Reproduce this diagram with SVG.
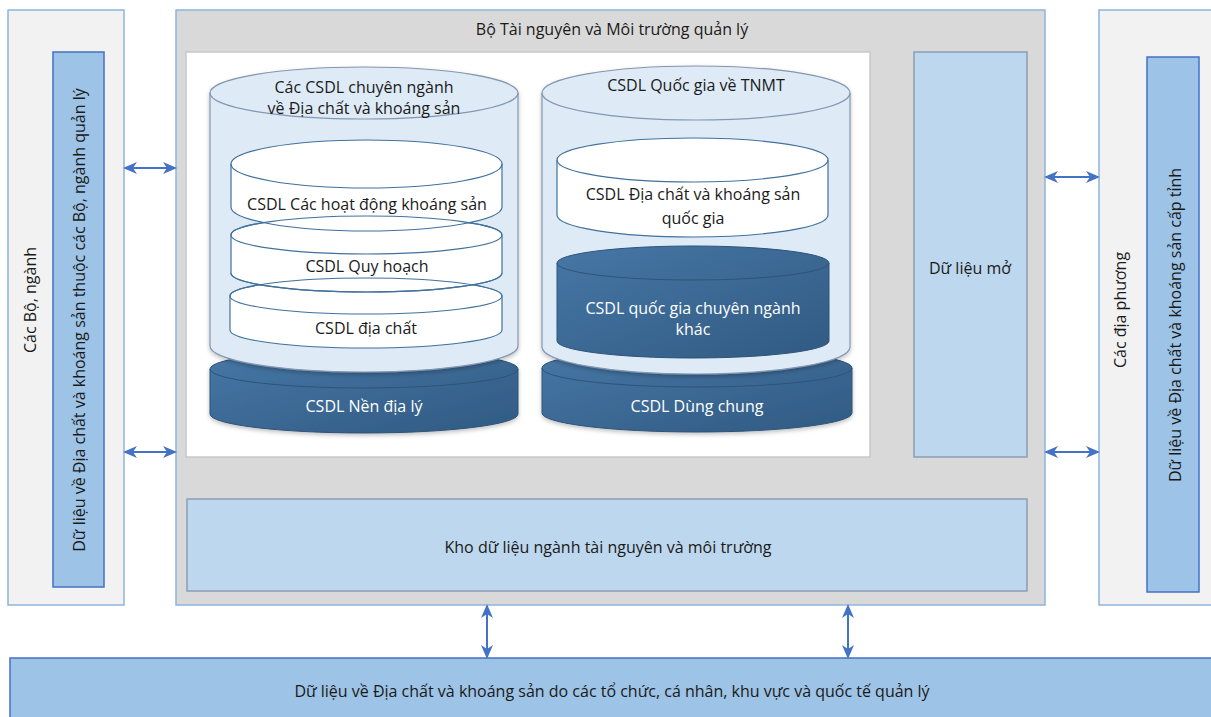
<svg xmlns="http://www.w3.org/2000/svg" width="1211" height="717" viewBox="0 0 1211 717">
<defs>
<style>
text{font-family:"Open Sans","Noto Sans","Liberation Sans",sans-serif;font-size:16px;fill:#1a1a1a;text-anchor:middle;}
.w{fill:#ffffff;}
.side{fill:#f2f2f2;stroke:#8fb4de;stroke-width:1.5;}
.main{fill:#d9d9d9;stroke:#8fb4de;stroke-width:1.5;}
.panel{fill:#ffffff;stroke:#c8c8c8;stroke-width:1.5;}
.lb{fill:#bdd7ee;stroke:#8c9db5;stroke-width:1.5;}
.mb{fill:#9dc3e6;stroke:#4472c4;stroke-width:1.5;}
.lc{fill:#deebf7;stroke:#8497b0;stroke-width:1.2;}
.wc{fill:#ffffff;stroke:#41719c;stroke-width:1.2;}
.dc{fill:url(#dg);stroke:#2e5478;stroke-width:1;}
.arc{fill:none;}
.conn{stroke:#4472c4;stroke-width:2;fill:none;marker-start:url(#ah);marker-end:url(#ah);}
</style>
<linearGradient id="dg" x1="0" y1="0" x2="1" y2="1">
<stop offset="0" stop-color="#4777a6"/>
<stop offset="1" stop-color="#305a82"/>
</linearGradient>
<marker id="ah" viewBox="0 0 14 12" refX="12" refY="6" markerWidth="14" markerHeight="12" markerUnits="userSpaceOnUse" orient="auto-start-reverse">
<path d="M0,0 L14,6 L0,12 L4,6 z" fill="#4472c4"/>
</marker>
<filter id="sh" x="-5%" y="-5%" width="110%" height="120%">
<feDropShadow dx="0" dy="2" stdDeviation="2" flood-color="#000" flood-opacity="0.25"/>
</filter>
</defs>

<g id="left-side">
<rect class="side" x="8" y="10" width="116" height="595"/>
<text transform="translate(36,300) rotate(-90)">Các Bộ, ngành</text>
</g>
<g id="left-inner">
<rect class="mb" x="53" y="52" width="51" height="535"/>
<text transform="translate(85,320) rotate(-90)">Dữ liệu về Địa chất và khoáng sản thuộc các Bộ, ngành quản lý</text>
</g>

<g id="main">
<rect class="main" x="176" y="10" width="869" height="595"/>
<text x="612" y="35">Bộ Tài nguyên và Môi trường quản lý</text>
</g>
<g id="panel">
<rect class="panel" x="186" y="52" width="684" height="405"/>
</g>

<g id="base-left">
<path class="dc" filter="url(#sh)" d="M210,369 A154,19 0 0 1 518,369 L518,414 A154,19 0 0 1 210,414 Z"/>
<path class="dc arc" d="M210,369 A154,19 0 0 0 518,369"/>
<text class="w" x="364" y="412">CSDL Nền địa lý</text>
</g>
<g id="base-right">
<path class="dc" filter="url(#sh)" d="M542,368 A155,19 0 0 1 852,368 L852,413 A155,19 0 0 1 542,413 Z"/>
<path class="dc arc" d="M542,368 A155,19 0 0 0 852,368"/>
<text class="w" x="697" y="412">CSDL Dùng chung</text>
</g>

<g id="cyl-left">
<path class="lc" filter="url(#sh)" d="M210,93 A154,26 0 0 1 518,93 L518,346 A154,26 0 0 1 210,346 Z"/>
<path class="lc arc" d="M210,93 A154,26 0 0 0 518,93"/>
<text x="364" y="93">Các CSDL chuyên ngành</text>
<text x="364" y="114">về Địa chất và khoáng sản</text>
</g>
<g id="cyl-right">
<path class="lc" filter="url(#sh)" d="M542,93 A154,27 0 0 1 850,93 L850,347 A154,27 0 0 1 542,347 Z"/>
<path class="lc arc" d="M542,93 A154,27 0 0 0 850,93"/>
<text x="696" y="91">CSDL Quốc gia về TNMT</text>
</g>

<g id="db-diachat">
<path class="wc" d="M230,296 A136,18 0 0 1 502,296 L502,330 A136,18 0 0 1 230,330 Z"/>
<path class="wc arc" d="M230,296 A136,18 0 0 0 502,296"/>
<text x="366" y="334">CSDL địa chất</text>
</g>
<g id="db-quyhoach">
<path class="wc" d="M231,235 A135.5,19 0 0 1 502,235 L502,273 A135.5,19 0 0 1 231,273 Z"/>
<path class="wc arc" d="M231,235 A135.5,19 0 0 0 502,235"/>
<text x="367" y="272">CSDL Quy hoạch</text>
</g>
<g id="db-hoatdong">
<path class="wc" d="M231,164 A135.5,24 0 0 1 502,164 L502,207 A135.5,24 0 0 1 231,207 Z"/>
<path class="wc arc" d="M231,164 A135.5,24 0 0 0 502,164"/>
<text x="367" y="210">CSDL Các hoạt động khoáng sản</text>
</g>
<path class="wc arc" d="M231,235 A135.5,19 0 0 1 502,235"/>
<path class="wc arc" d="M231,273 A135.5,19 0 0 0 502,273"/>
<path class="wc arc" d="M230,296 A136,18 0 0 1 502,296"/>

<g id="db-qg">
<path class="wc" d="M557,160 A135.5,22 0 0 1 828,160 L828,215 A135.5,22 0 0 1 557,215 Z"/>
<path class="wc arc" d="M557,160 A135.5,22 0 0 0 828,160"/>
<text x="693" y="200">CSDL Địa chất và khoáng sản</text>
<text x="693" y="224">quốc gia</text>
</g>
<g id="db-khac">
<path class="dc" d="M557,263 A136,17 0 0 1 829,263 L829,341 A136,17 0 0 1 557,341 Z"/>
<path class="dc arc" d="M557,263 A136,17 0 0 0 829,263"/>
<text class="w" x="693" y="314">CSDL quốc gia chuyên ngành</text>
<text class="w" x="693" y="335">khác</text>
</g>

<g id="open-data">
<rect class="lb" x="914" y="52" width="113" height="405"/>
<text x="970" y="274">Dữ liệu mở</text>
</g>
<g id="warehouse">
<rect class="lb" x="187" y="499" width="840" height="92"/>
<text x="608" y="553">Kho dữ liệu ngành tài nguyên và môi trường</text>
</g>

<g id="right-side">
<rect class="side" x="1099" y="10" width="120" height="595"/>
<text transform="translate(1126,310) rotate(-90)">Các địa phương</text>
</g>
<g id="right-inner">
<rect class="mb" x="1147" y="57" width="52" height="535"/>
<text transform="translate(1181,325) rotate(-90)">Dữ liệu về Địa chất và khoáng sản cấp tỉnh</text>
</g>

<g id="bottom">
<rect class="mb" x="10" y="658" width="1210" height="70"/>
<text x="612" y="697">Dữ liệu về Địa chất và khoáng sản do các tổ chức, cá nhân, khu vực và quốc tế quản lý</text>
</g>

<g id="connectors">
<line class="conn" x1="125" y1="168" x2="175" y2="168"/>
<line class="conn" x1="125" y1="452" x2="175" y2="452"/>
<line class="conn" x1="1046" y1="177" x2="1098" y2="177"/>
<line class="conn" x1="1046" y1="452" x2="1098" y2="452"/>
<line class="conn" x1="487" y1="606" x2="487" y2="657"/>
<line class="conn" x1="848" y1="606" x2="848" y2="657"/>
</g>
</svg>
